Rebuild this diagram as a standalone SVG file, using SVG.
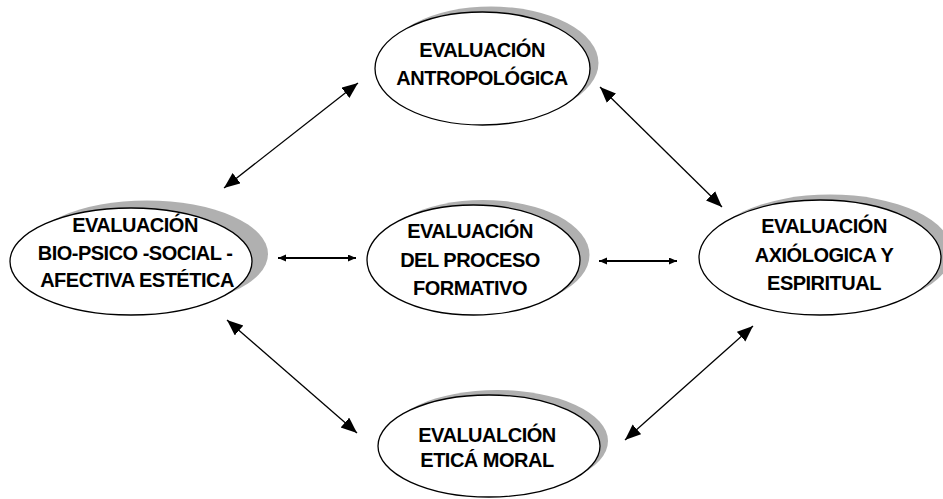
<svg xmlns="http://www.w3.org/2000/svg" width="943" height="499" viewBox="0 0 943 499">
<style>
.shadow{fill:#b0b0b0;stroke:none}
.node{fill:#ffffff;stroke:#000000;stroke-width:1.3}
.lbl{font-family:"Liberation Sans",Arial,sans-serif;font-weight:bold;font-size:20px;letter-spacing:-0.5px;fill:#000000;text-anchor:middle}
.diag{stroke:#000;stroke-width:1.3;fill:none;marker-start:url(#big);marker-end:url(#big)}
.hor{stroke:#000;stroke-width:2.2;fill:none;marker-start:url(#small);marker-end:url(#small)}
</style>
<defs>
<marker id="big" markerUnits="userSpaceOnUse" markerWidth="17" markerHeight="14" refX="16" refY="6.5" orient="auto-start-reverse">
<path d="M0,0 L16,6.5 L0,13 z" fill="#000"/>
</marker>
<marker id="small" markerUnits="userSpaceOnUse" markerWidth="9" markerHeight="8" refX="8" refY="3.5" orient="auto-start-reverse">
<path d="M0,0 L8,3.5 L0,7 z" fill="#000"/>
</marker>
</defs>
<rect width="943" height="499" fill="#ffffff"/>
<g id="connectors">
<line class="diag" x1="224" y1="188" x2="358" y2="83"/>
<line class="diag" x1="600" y1="87" x2="722" y2="207"/>
<line class="diag" x1="227" y1="320" x2="357" y2="433"/>
<line class="diag" x1="625" y1="440" x2="753" y2="326"/>
<line class="hor" x1="278" y1="258" x2="356" y2="258"/>
<line class="hor" x1="599" y1="261" x2="677" y2="261"/>
</g>
<g id="node-antropologica">
<ellipse class="shadow" cx="491" cy="63" rx="107.5" ry="56.5"/>
<ellipse class="node" cx="482.5" cy="68.5" rx="107.5" ry="56.5"/>
<text class="lbl" x="482" y="57">EVALUACIÓN</text>
<text class="lbl" x="482" y="85">ANTROPOLÓGICA</text>
</g>
<g id="node-biopsicosocial">
<ellipse class="shadow" cx="147" cy="254" rx="121" ry="53.5"/>
<ellipse class="node" cx="131" cy="261.5" rx="121" ry="53.5"/>
<text class="lbl" x="135" y="232">EVALUACIÓN</text>
<text class="lbl" x="135" y="260">BIO-PSICO -SOCIAL -</text>
<text class="lbl" x="137" y="287">AFECTIVA ESTÉTICA</text>
</g>
<g id="node-proceso">
<ellipse class="shadow" cx="483" cy="255" rx="106.5" ry="55"/>
<ellipse class="node" cx="473.5" cy="260" rx="106.5" ry="55"/>
<text class="lbl" x="470" y="238">EVALUACIÓN</text>
<text class="lbl" x="470" y="267">DEL PROCESO</text>
<text class="lbl" x="470" y="295">FORMATIVO</text>
</g>
<g id="node-axiologica">
<ellipse class="shadow" cx="830" cy="252" rx="122" ry="57.5"/>
<ellipse class="node" cx="820" cy="257.5" rx="121" ry="57.5"/>
<text class="lbl" x="824" y="233">EVALUACIÓN</text>
<text class="lbl" x="824" y="262">AXIÓLOGICA Y</text>
<text class="lbl" x="824" y="290">ESPIRITUAL</text>
</g>
<g id="node-etica">
<ellipse class="shadow" cx="497" cy="441" rx="111" ry="51"/>
<ellipse class="node" cx="489" cy="446" rx="111" ry="51"/>
<text class="lbl" x="487" y="442">EVALUALCIÓN</text>
<text class="lbl" x="487" y="467">ETICÁ MORAL</text>
</g>
</svg>
